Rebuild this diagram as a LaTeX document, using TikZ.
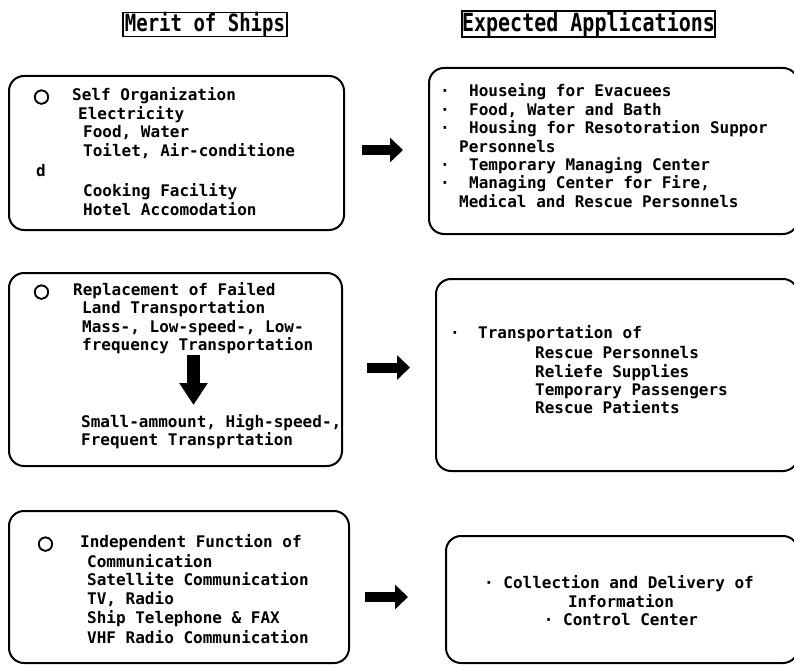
\documentclass[tikz,border=0pt]{standalone}
\usepackage{fontspec}
\usepackage{graphicx}
\newfontfamily\shipfont{DejaVu Sans Mono}
\newfontfamily\ringfont{DejaVu Sans}[FakeBold=4]
\usetikzlibrary{arrows.meta}

\tikzset{
  panel/.style={draw, line width=2pt, rounded corners=15pt, anchor=north west, inner sep=0pt},
  heading/.style={draw, line width=1.6pt, inner sep=0pt},
  entry/.style={anchor=base west, inner sep=0pt, font=\shipfont\bfseries\fontsize{16}{19}\selectfont},
  ring/.style={anchor=base west, inner sep=0pt, font=\ringfont\fontsize{19}{19}\selectfont},
  fatarrow/.style={line width=10pt, -{Triangle[length=13pt,width=24pt]}},
}

\begin{document}
\begin{tikzpicture}[x=1pt, y=-1pt]
    \useasboundingbox (0,0) rectangle (794,666);

    % Headings
    \node[heading, minimum width=164pt, minimum height=23pt] (merit) at (205,24.5)
        {\shipfont\bfseries\fontsize{19}{19}\selectfont\scalebox{1}[1.25]{Merit of Ships}};
    \node[heading, minimum width=253pt, minimum height=22pt] (expect) at (588.5,24)
        {\shipfont\bfseries\fontsize{20}{20}\selectfont\scalebox{1}[1.25]{Expected Applications}};

    % Panels, left column
    \node[panel, minimum width=335pt, minimum height=154pt] (selforg) at (8,75) {};
    \node[panel, minimum width=333pt, minimum height=193pt] (replace) at (8,272) {};
    \node[panel, minimum width=340pt, minimum height=152pt] (comm) at (8,510) {};

    % Panels, right column
    \node[panel, minimum width=369pt, minimum height=166pt] (housing) at (428,67) {};
    \node[panel, minimum width=362pt, minimum height=192pt] (transport) at (435,278) {};
    \node[panel, minimum width=352pt, minimum height=127pt] (info) at (445,535) {};

    % Self organization
    \node[ring] (so0) at (33,102) {○};
    \node[entry] (so1) at (72,100) {Self Organization};
    \node[entry] (so2) at (78,119) {Electricity};
    \node[entry] (so3) at (83,137) {Food, Water};
    \node[entry] (so4) at (83,156) {Toilet, Air-conditione};
    \node[entry] (so5) at (36,176) {d};
    \node[entry] (so6) at (83,196) {Cooking Facility};
    \node[entry] (so7) at (83,215) {Hotel Accomodation};

    % Replacement of land transport
    \node[ring] (rp0) at (33,297) {○};
    \node[entry] (rp1) at (73,295) {Replacement of Failed};
    \node[entry] (rp2) at (82,313) {Land Transportation};
    \node[entry] (rp3) at (82,332) {Mass-, Low-speed-, Low-};
    \node[entry] (rp4) at (82,350) {frequency Transportation};
    \node[entry] (rp5) at (81,427) {Small-ammount, High-speed-,};
    \node[entry] (rp6) at (81,445) {Frequent Transprtation};

    % Communication
    \node[ring] (cm0) at (37,549) {○};
    \node[entry] (cm1) at (80,547) {Independent Function of};
    \node[entry] (cm2) at (87,567) {Communication};
    \node[entry] (cm3) at (87,585) {Satellite Communication};
    \node[entry] (cm4) at (87,604) {TV, Radio};
    \node[entry] (cm5) at (87,623) {Ship Telephone \& FAX};
    \node[entry] (cm6) at (87,643) {VHF Radio Communication};

    % Housing and managing
    \node[entry] (hs1) at (440,97) {·};
    \node[entry] (hs2) at (469,97) {Houseing for Evacuees};
    \node[entry] (hs3) at (440,115) {·};
    \node[entry] (hs4) at (469,115) {Food, Water and Bath};
    \node[entry] (hs5) at (440,133) {·};
    \node[entry] (hs6) at (469,133) {Housing for Resotoration Suppor};
    \node[entry] (hs7) at (459,152) {Personnels};
    \node[entry] (hs8) at (440,170) {·};
    \node[entry] (hs9) at (469,170) {Temporary Managing Center};
    \node[entry] (hs10) at (440,188) {·};
    \node[entry] (hs11) at (469,188) {Managing Center for Fire,};
    \node[entry] (hs12) at (459,207) {Medical and Rescue Personnels};

    % Transportation
    \node[entry] (tr1) at (450,338) {·};
    \node[entry] (tr2) at (478,338) {Transportation of};
    \node[entry] (tr3) at (535,358) {Rescue Personnels};
    \node[entry] (tr4) at (535,377) {Reliefe Supplies};
    \node[entry] (tr5) at (535,395) {Temporary Passengers};
    \node[entry] (tr6) at (535,413) {Rescue Patients};

    % Information
    \node[entry, anchor=base] (in1) at (619,588) {· Collection and Delivery of};
    \node[entry, anchor=base] (in2) at (621,607) {Information};
    \node[entry, anchor=base] (in3) at (621,625) {· Control Center};

    % Arrows
    \coordinate (a1s) at (362,150);
    \coordinate (a1e) at (403,150);
    \coordinate (a2s) at (367,367.5);
    \coordinate (a2e) at (410,367.5);
    \coordinate (a3s) at (365,597);
    \coordinate (a3e) at (408,597);
    \coordinate (dns) at (193.5,355);
    \coordinate (dne) at (193.5,405);
    \draw[fatarrow] (a1s) -- (a1e);
    \draw[fatarrow] (a2s) -- (a2e);
    \draw[fatarrow] (a3s) -- (a3e);
    \draw[line width=13pt, -{Triangle[length=22pt,width=27pt]}] (dns) -- (dne);

\end{tikzpicture}
\end{document}
